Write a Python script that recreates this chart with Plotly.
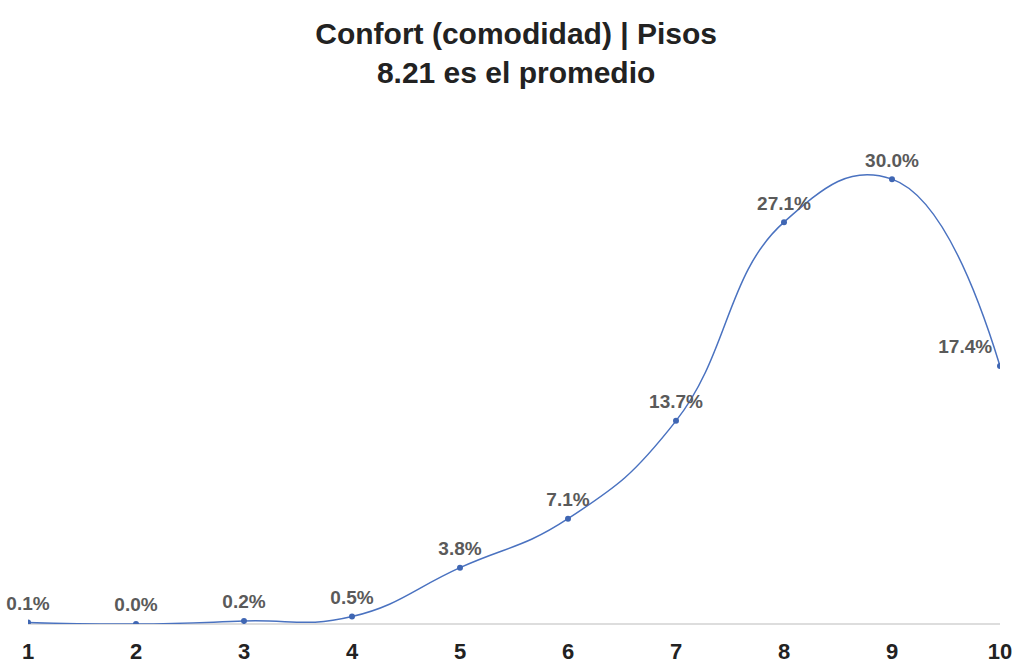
import plotly.graph_objs as go

# puntuaciones y porcentaje de respuestas
puntos = [1, 2, 3, 4, 5, 6, 7, 8, 9, 10]
porcentaje = [0.1, 0.0, 0.2, 0.5, 3.8, 7.1, 13.7, 27.1, 30.0, 17.4]
etiquetas = [f"{v:.1f}%" for v in porcentaje]
posiciones = ['top center'] * 9 + ['top left']

FUENTE = 'Liberation Sans, Arial'

fig = go.Figure()

# curve + points
fig.add_trace(go.Scatter(
	x = puntos,
	y = porcentaje,
	mode = 'lines+markers',
	line = dict(color = '#4a72c0', width = 1.5, shape = 'spline', smoothing = 1.3),
	marker = dict(color = '#3f66b3', size = 6),
	hoverinfo = 'x+y',
	showlegend = False,
))

# labels (invisible bigger markers just to push the text up a bit)
fig.add_trace(go.Scatter(
	x = puntos,
	y = porcentaje,
	mode = 'markers+text',
	marker = dict(size = 11, opacity = 0),
	text = etiquetas,
	textposition = posiciones,
	textfont = dict(family = FUENTE, size = 19, color = '#5a5a5a', weight = 'bold'),
	cliponaxis = False,
	hoverinfo = 'skip',
	showlegend = False,
))

fig.update_layout(
	width = 1018,
	height = 668,
	margin = dict(l = 28, r = 18, t = 105, b = 44),
	paper_bgcolor = 'white',
	plot_bgcolor = 'white',
	title = dict(
		text = "<b>Confort (comodidad) | Pisos<br>8.21 es el promedio</b>",
		x = 0.507, xanchor = 'center',
		y = 0.934, yanchor = 'top',
		font = dict(family = FUENTE, size = 30, color = '#222222'),
	),
	xaxis = dict(
		range = [1, 10],
		tickvals = puntos,
		ticktext = [f"<b>{p}</b>" for p in puntos],
		tickfont = dict(family = FUENTE, size = 22, color = '#222222'),
		ticklabelstandoff = 12,
		automargin = False,
		showgrid = False,
		zeroline = False,
		showline = False,
		ticklen = 0,
	),
	yaxis = dict(
		range = [0, 35],
		showticklabels = False,
		automargin = False,
		showgrid = False,
		zeroline = True,
		zerolinecolor = '#dddddd',
		zerolinewidth = 2,
	),
)

# drop the default 8px body margin so the figure sits in the corner
fig.write_html("out.html", config = {'displayModeBar': False},
			   post_script = "document.body.style.margin = '0';")
